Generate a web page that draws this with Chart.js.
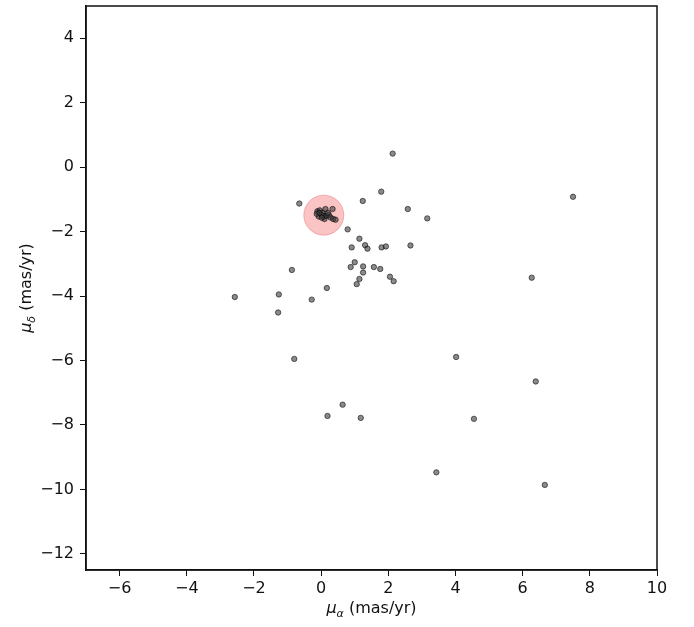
<!DOCTYPE html>
<html lang="en">
<head>
    <meta charset="UTF-8">
    <title>Proper motion diagram</title>
    <script src="https://cdn.jsdelivr.net/npm/chart.js"></script>
    <style>
        body { margin: 0; background: #fff; }
        #wrap { position: relative; width: 694px; height: 627px; }
    </style>
</head>
<body>
    <div id="wrap"><canvas id="pmChart"></canvas></div>
    <script>
        // field stars (mas/yr)
        const fieldPmRa = [2.13, 1.79, 1.24, -0.65, 2.58, 3.16, 0.79, 1.14, 0.91, 1.31, 1.38, 1.80, 1.93, 2.66,
            1.00, 0.88, 1.25, 1.25, 1.57, 1.76, 2.05, 2.16, 1.14, 1.06, -0.87, 0.17, -1.26, -2.57, -0.28,
            -1.28, -0.80, 0.64, 0.19, 1.18, 7.50, 6.27, 4.02, 6.39, 4.55, 3.43, 6.66];
        const fieldPmDec = [0.42, -0.76, -1.05, -1.13, -1.30, -1.59, -1.93, -2.22, -2.49, -2.42, -2.53, -2.49, -2.46, -2.43,
            -2.95, -3.10, -3.08, -3.27, -3.10, -3.16, -3.40, -3.54, -3.47, -3.63, -3.19, -3.75, -3.95, -4.03, -4.11,
            -4.51, -5.95, -7.37, -7.72, -7.78, -0.92, -3.43, -5.89, -6.65, -7.81, -9.47, -9.86];
        // cluster members
        const clusterPmRa = [-0.11, -0.04, 0.04, 0.13, 0.34, 0.10, 0.07, 0.16, 0.28, 0.36, 0.43, -0.07, -0.13, 0.01, 0.23, -0.05, 0.02, 0.20];
        const clusterPmDec = [-1.37, -1.34, -1.41, -1.30, -1.30, -1.61, -1.53, -1.51, -1.56, -1.61, -1.63, -1.53, -1.45, -1.48, -1.48, -1.42, -1.57, -1.42];
        // selection circle
        const circleCenter = [0.08, -1.49];

        const xTicks = [-6, -4, -2, 0, 2, 4, 6, 8, 10];
        const yTicks = [-12, -10, -8, -6, -4, -2, 0, 2, 4];

        const toPoints = (xs, ys) => xs.map((x, i) => ({ x: x, y: ys[i] }));
        const minus = v => String(v).replace('-', '\u2212');
        const FONT = 'DejaVu Sans';

        const frame = {
            id: 'frame',
            afterDraw(chart) {
                const { ctx, chartArea: a } = chart;
                ctx.save();
                ctx.strokeStyle = '#111';
                ctx.lineWidth = 1.5;
                ctx.strokeRect(a.left, a.top, a.right - a.left, a.bottom - a.top);
                ctx.fillStyle = '#111';
                const drawTitle = (sub) => {
                    ctx.font = 'italic 16px "' + FONT + '"';
                    const wMu = ctx.measureText('\u03bc').width;
                    ctx.font = 'italic 11px "' + FONT + '"';
                    const wSub = ctx.measureText(sub).width;
                    ctx.font = '16px "' + FONT + '"';
                    const rest = ' (mas/yr)';
                    const wRest = ctx.measureText(rest).width;
                    let x = -(wMu + wSub + wRest) / 2;
                    ctx.textBaseline = 'alphabetic';
                    ctx.textAlign = 'left';
                    ctx.font = 'italic 16px "' + FONT + '"';
                    ctx.fillText('\u03bc', x, 0); x += wMu;
                    ctx.font = 'italic 11px "' + FONT + '"';
                    ctx.fillText(sub, x, 4); x += wSub;
                    ctx.font = '16px "' + FONT + '"';
                    ctx.fillText(rest, x, 0);
                };
                ctx.save();
                ctx.translate((a.left + a.right) / 2, 613);
                drawTitle('\u03b1');
                ctx.restore();
                ctx.save();
                ctx.translate(31, (a.top + a.bottom) / 2);
                ctx.rotate(-Math.PI / 2);
                drawTitle('\u03b4');
                ctx.restore();
                ctx.restore();
            }
        };

        new Chart(document.getElementById('pmChart'), {
            type: 'scatter',
            data: {
                datasets: [
                    {
                        label: 'stars',
                        data: toPoints(fieldPmRa.concat(clusterPmRa), fieldPmDec.concat(clusterPmDec)),
                        backgroundColor: 'rgba(60,60,60,0.6)',
                        borderColor: 'rgba(0,0,0,0.55)',
                        borderWidth: 1,
                        pointRadius: 2.7,
                        order: 0
                    },
                    {
                        label: 'selection',
                        data: [{ x: circleCenter[0], y: circleCenter[1] }],
                        backgroundColor: 'rgba(242,100,100,0.38)',
                        borderColor: 'rgba(230,90,90,0.4)',
                        borderWidth: 1,
                        pointRadius: 20,
                        order: 1
                    }
                ]
            },
            options: {
                responsive: true,
                maintainAspectRatio: false,
                animation: false,
                events: [],
                layout: { autoPadding: false, padding: { left: 0, top: 6, right: 37, bottom: 0 } },
                plugins: { legend: { display: false }, tooltip: { enabled: false } },
                scales: {
                    x: {
                        type: 'linear',
                        min: -7,
                        max: 10,
                        afterBuildTicks: s => { s.ticks = xTicks.map(v => ({ value: v })); },
                        afterFit: s => { s.height = 57; s.paddingLeft = 0; s.paddingRight = 0; },
                        grid: { drawOnChartArea: false, drawTicks: true, tickLength: 6, color: '#111', lineWidth: 1 },
                        border: { display: true, color: '#111', width: 1.5 },
                        ticks: { color: '#111', font: { family: FONT, size: 16 }, padding: 3, maxRotation: 0, callback: v => minus(v) }
                    },
                    y: {
                        type: 'linear',
                        min: -12.5,
                        max: 5,
                        afterBuildTicks: s => { s.ticks = yTicks.map(v => ({ value: v })); },
                        afterFit: s => { s.width = 86; s.paddingTop = 0; s.paddingBottom = 0; },
                        grid: { drawOnChartArea: false, drawTicks: true, tickLength: 6, color: '#111', lineWidth: 1 },
                        border: { display: true, color: '#111', width: 1.5 },
                        ticks: { color: '#111', font: { family: FONT, size: 16 }, padding: 6, callback: v => minus(v) }
                    }
                }
            },
            plugins: [frame]
        });
    </script>
</body>
</html>
